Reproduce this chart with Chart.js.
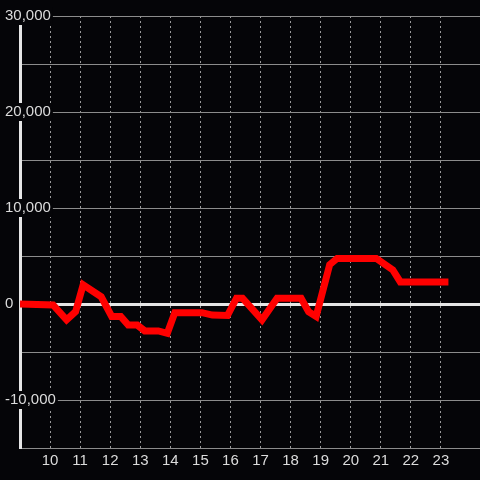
<!DOCTYPE html>
<html>
<head>
<meta charset="utf-8">
<script src="https://cdn.jsdelivr.net/npm/chart.js@4"></script>
<style>
  html, body { margin: 0; padding: 0; background: #050508; }
  #wrap { width: 480px; height: 480px; }
</style>
</head>
<body>
<div id="wrap"><canvas id="c"></canvas></div>
<script>
// hour of day vs value
const hours  = [9, 10.1, 10.55, 10.85, 11.1, 11.7, 12.05, 12.35, 12.6, 12.9, 13.15, 13.6, 13.9, 14.15,
                15.05, 15.4, 15.9, 16.2, 16.4, 17.05, 17.55, 18.35, 18.6, 18.85, 19.3, 19.55, 20.85, 21.4, 21.65, 23.25];
const values = [0, -100, -1650, -800, 2000, 750, -1300, -1300, -2200, -2200, -2800, -2800, -3050, -900,
                -900, -1150, -1200, 600, 600, -1650, 600, 600, -800, -1300, 4100, 4750, 4750, 3550, 2300, 2300];

const X_MIN = 9, X_MAX = 24.3;
const Y_MIN = -15000, Y_MAX = 30000;

const BG = '#050508';
const TEXT = '#dcdcdc';

const points = hours.map((h, i) => ({ x: h, y: values[i] }));

new Chart(document.getElementById('c'), {
  type: 'line',
  data: {
    datasets: [{
      data: points,
      borderColor: '#ff0000',
      borderWidth: 7,
      pointRadius: 0,
      tension: 0,
      fill: false
    }]
  },
  options: {
    responsive: true,
    maintainAspectRatio: false,
    animation: false,
    layout: { padding: { top: 16, right: 0 }, autoPadding: false },
    plugins: { legend: { display: false }, tooltip: { enabled: false } },
    scales: {
      x: {
        type: 'linear',
        min: X_MIN,
        max: X_MAX,
        afterFit: s => { s.height = 32; s.paddingLeft = 0; s.paddingRight = 0; },
        ticks: {
          stepSize: 1,
          color: TEXT,
          font: { family: 'Liberation Sans', size: 15 },
          padding: 4,
          maxRotation: 0,
          autoSkip: false,
          callback: v => (Number.isInteger(v) && v >= 10) ? String(v) : ''
        },
        grid: {
          drawTicks: false,
          color: ctx => (ctx.tick && Number.isInteger(ctx.tick.value) && ctx.tick.value >= 10) ? '#9a9a9a' : 'rgba(0,0,0,0)',
          lineWidth: 1
        },
        border: { display: false, dash: [2, 3] }
      },
      y: {
        type: 'linear',
        min: Y_MIN,
        max: Y_MAX,
        afterFit: s => { s.width = 20; },
        ticks: {
          stepSize: 5000,
          mirror: true,
          crossAlign: 'near',
          padding: -15,
          color: TEXT,
          font: { family: 'Liberation Sans', size: 15 },
          showLabelBackdrop: true,
          backdropColor: BG,
          backdropPadding: { top: 0, bottom: 0, left: 2, right: 2 },
          callback: v => (v % 10000 === 0) ? v.toLocaleString('en-US') : ''
        },
        grid: {
          drawTicks: false,
          color: ctx => (ctx.tick && ctx.tick.value === 0) ? '#e6e6e6' : '#8c8c8c',
          lineWidth: ctx => (ctx.tick && ctx.tick.value === 0) ? 3 : 1
        },
        border: { display: true, color: '#e6e6e6', width: 3 }
      }
    }
  }
});
</script>
</body>
</html>
